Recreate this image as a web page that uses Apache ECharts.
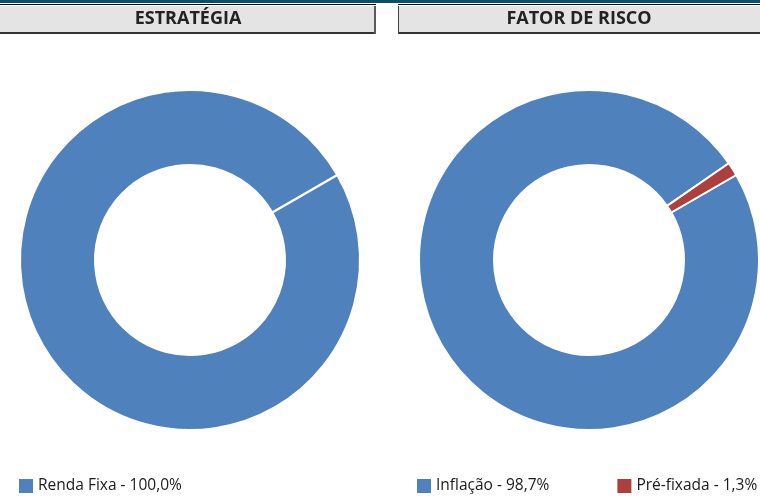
<!DOCTYPE html>
<html>
<head>
<meta charset="utf-8">
<script src="https://cdn.jsdelivr.net/npm/echarts@6/dist/echarts.min.js"></script>
<style>
  html, body { margin: 0; padding: 0; background: #fff; }
  #main { width: 760px; height: 496px; }
</style>
</head>
<body>
<div id="main"></div>
<script>
// dados dos dois gráficos
const estrategiaNomes = ['Renda Fixa'];
const estrategiaValores = [100.0];
const fatorNomes = ['Inflação', 'Pré-fixada'];
const fatorValores = [98.7, 1.3];
const cores = ['#4f81bd', '#ad403c'];

const fonte = '"Open Sans", "Noto Sans", sans-serif';
const inicio = 30;          // startAngle das roscas
const raios = [95, 170];
const centroY = 260;

function pct(valores, i) {
    const total = valores.reduce((a, b) => a + b, 0);
    return (valores[i] / total * 100).toFixed(1).replace('.', ',') + '%';
}

function legenda(nomes, valores, left) {
    return {
        data: nomes,
        left: left,
        top: 478,
        padding: 0,
        orient: 'horizontal',
        icon: 'rect',
        itemWidth: 14,
        itemHeight: 14,
        itemGap: 68,
        selectedMode: false,
        itemStyle: { borderWidth: 0 },
        textStyle: { fontFamily: fonte, fontSize: 15.5, color: '#1a1a1a' },
        formatter: function (name) {
            return name + ' - ' + pct(valores, nomes.indexOf(name));
        }
    };
}

function serie(nomes, valores, cx) {
    return {
        type: 'pie',
        center: [cx, centroY],
        radius: raios,
        startAngle: inicio,
        clockwise: true,
        silent: true,
        label: { show: false },
        labelLine: { show: false },
        itemStyle: { borderColor: '#fff', borderWidth: 2 },
        data: nomes.map((n, i) => ({ name: n, value: valores[i], itemStyle: { color: cores[i] } }))
    };
}

// fatia única: o contorno branco no ângulo inicial (como no original)
function divisoria(cx) {
    const a = inicio * Math.PI / 180;
    return {
        type: 'line',
        z: 10,
        shape: {
            x1: cx + raios[0] * Math.cos(a), y1: centroY - raios[0] * Math.sin(a),
            x2: cx + (raios[1] + 1) * Math.cos(a), y2: centroY - (raios[1] + 1) * Math.sin(a)
        },
        style: { stroke: '#fff', lineWidth: 2.5 }
    };
}

function cabecalho(texto, x0, x1, ladoEscuro) {
    const els = [
        { type: 'rect', shape: { x: x0, y: 4, width: x1 - x0, height: 1 }, style: { fill: '#111' } },
        { type: 'rect', shape: { x: x0, y: 6, width: x1 - x0, height: 26 }, style: { fill: '#e4e4e4' } },
        { type: 'rect', shape: { x: x0, y: 32, width: x1 - x0, height: 2 }, style: { fill: '#333' } }
    ];
    if (ladoEscuro === 'direita') {
        els.push({ type: 'rect', shape: { x: x1 - 2, y: 6, width: 2, height: 28 }, style: { fill: '#5a5a5a' } });
    } else {
        els.push({ type: 'rect', shape: { x: x0, y: 6, width: 1, height: 28 }, style: { fill: '#444' } });
    }
    els.push({
        type: 'text',
        x: (x0 + x1) / 2,
        y: 19,
        style: {
            text: texto,
            fill: '#222',
            font: 'bold 18px ' + fonte,
            textAlign: 'center',
            textVerticalAlign: 'middle'
        }
    });
    return els;
}

const chart = echarts.init(document.getElementById('main'), null, { renderer: 'canvas' });

const option = {
    animation: false,
    backgroundColor: '#fff',
    color: cores,
    legend: [
        legenda(estrategiaNomes, estrategiaValores, 19),
        legenda(fatorNomes, fatorValores, 417)
    ],
    graphic: [
        { type: 'rect', shape: { x: 0, y: 0, width: 760, height: 3 }, style: { fill: '#0b4f6c' } },
        divisoria(190)
    ].concat(cabecalho('ESTRATÉGIA', 0, 376, 'direita'))
     .concat(cabecalho('FATOR DE RISCO', 398, 760, 'esquerda')),
    series: [
        serie(estrategiaNomes, estrategiaValores, 190),
        serie(fatorNomes, fatorValores, 589)
    ]
};

chart.setOption(option);
</script>
</body>
</html>
